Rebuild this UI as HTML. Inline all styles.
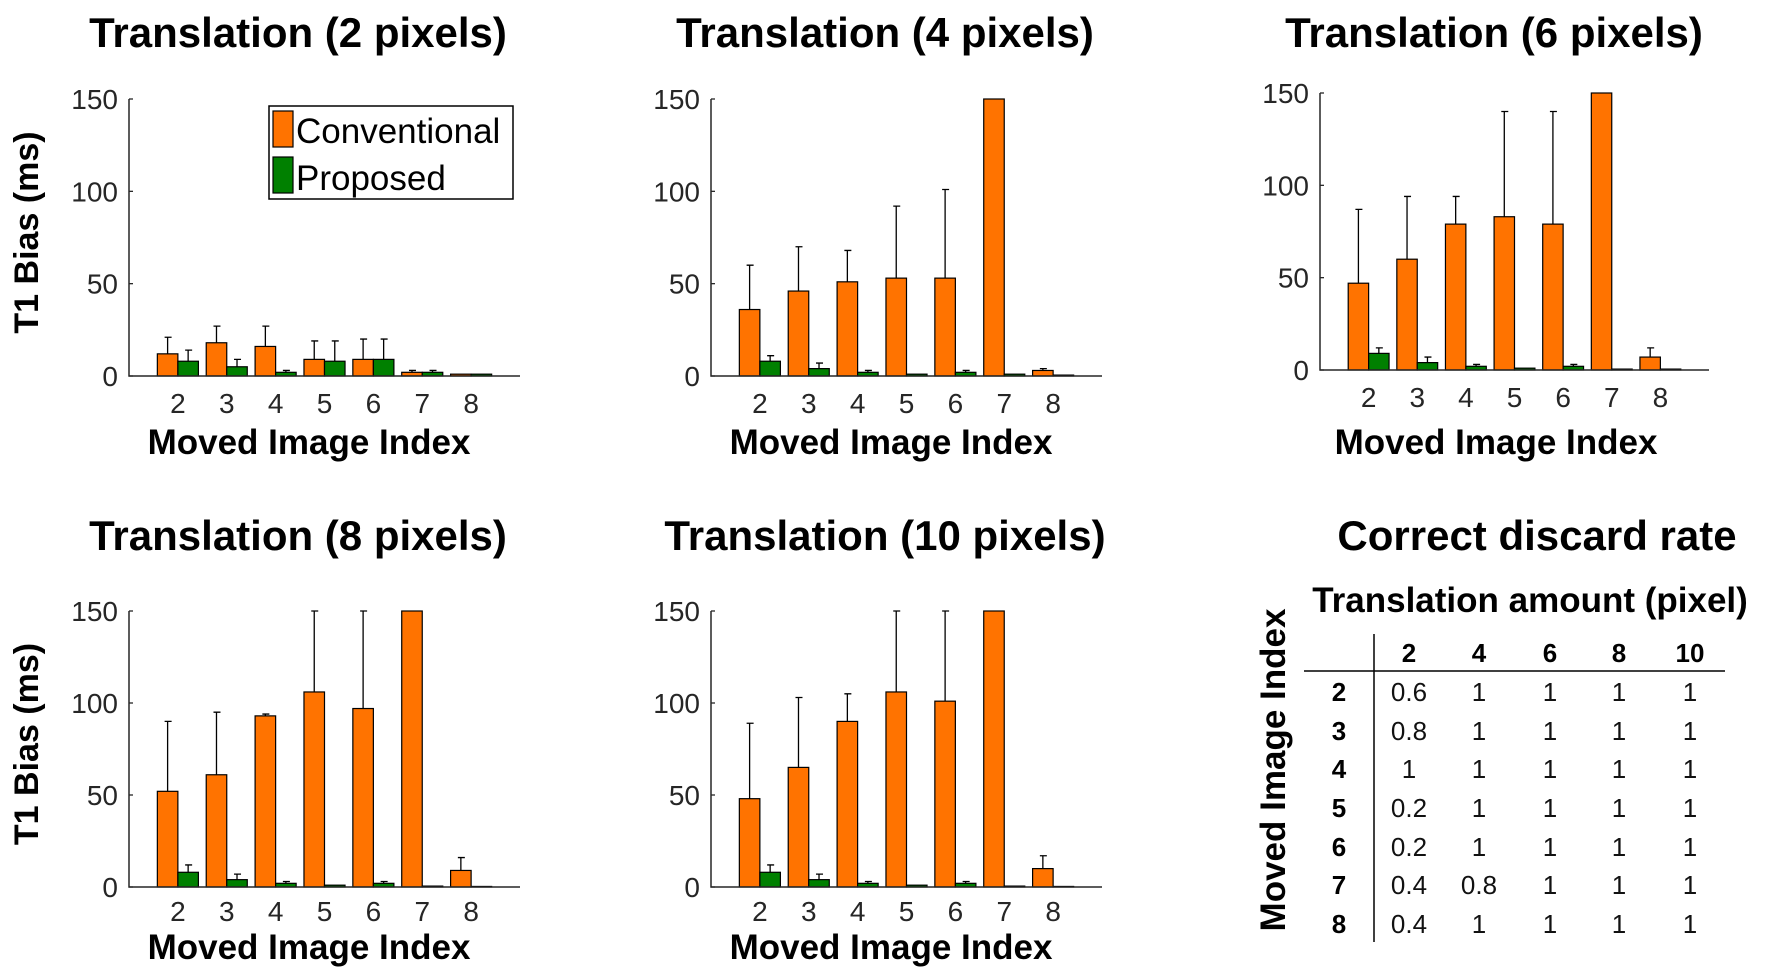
<!DOCTYPE html>
<html><head><meta charset="utf-8"><style>
html,body{margin:0;padding:0;background:#fff;}
svg{display:block;font-family:"Liberation Sans",Arial,sans-serif;}
</style></head><body>
<svg id="fig" width="1775" height="972" viewBox="0 0 1775 972"></svg>
<script>
const categories = [2,3,4,5,6,7,8];
const yTicks = [0,50,100,150];
const titles = ["Translation (2 pixels)","Translation (4 pixels)","Translation (6 pixels)","Translation (8 pixels)","Translation (10 pixels)"];
const conv2 = [12,18,16,9,9,2,1];
const conv2Err = [21,27,27,19,20,3,1];
const prop2 = [8,5,2,8,9,2,1];
const prop2Err = [14,9,3,19,20,3,1];
const conv4 = [36,46,51,53,53,150,3];
const conv4Err = [60,70,68,92,101,150,4];
const prop4 = [8,4,2,1,2,1,0.5];
const prop4Err = [11,7,3,1,3,1,0.5];
const conv6 = [47,60,79,83,79,150,7];
const conv6Err = [87,94,94,140,140,150,12];
const prop6 = [9,4,2,1,2,0.5,0.5];
const prop6Err = [12,7,3,1,3,0.5,0.5];
const conv8 = [52,61,93,106,97,150,9];
const conv8Err = [90,95,94,150,150,150,16];
const prop8 = [8,4,2,1,2,0.5,0.3];
const prop8Err = [12,7,3,1,3,0.5,0.3];
const conv10 = [48,65,90,106,101,150,10];
const conv10Err = [89,103,105,150,150,150,17];
const prop10 = [8,4,2,1,2,0.5,0.3];
const prop10Err = [12,7,3,1,3,0.5,0.3];
const tableCols = ["2","4","6","8","10"];
const tableRows = ["2","3","4","5","6","7","8"];
const tableVals = [
 ["0.6","1","1","1","1"],["0.8","1","1","1","1"],["1","1","1","1","1"],
 ["0.2","1","1","1","1"],["0.2","1","1","1","1"],["0.4","0.8","1","1","1"],["0.4","1","1","1","1"]];

const NS="http://www.w3.org/2000/svg";
const svg=document.getElementById('fig');
function el(tag,attrs,parent,text){const e=document.createElementNS(NS,tag);for(const k in attrs)e.setAttribute(k,attrs[k]);if(text!==undefined)e.textContent=text;(parent||svg).appendChild(e);return e;}

const panels=[
 {x0:129,x1:520,y0:376,y1:99,tx:298,ty:47,conv:conv2,ce:conv2Err,prop:prop2,pe:prop2Err,ylab:true,legend:true,tlo:37,ato:78},
 {x0:711,x1:1102,y0:376,y1:99,tx:885,ty:47,conv:conv4,ce:conv4Err,prop:prop4,pe:prop4Err,tlo:37,ato:78},
 {x0:1320,x1:1709,y0:370,y1:93,tx:1494,ty:47,conv:conv6,ce:conv6Err,prop:prop6,pe:prop6Err,tlo:37,ato:84,axo:176},
 {x0:129,x1:520,y0:887,y1:611,tx:298,ty:550,conv:conv8,ce:conv8Err,prop:prop8,pe:prop8Err,ylab:true,tlo:34,ato:72},
 {x0:711,x1:1102,y0:887,y1:611,tx:885,ty:550,conv:conv10,ce:conv10Err,prop:prop10,pe:prop10Err,tlo:34,ato:72}
];

panels.forEach((p,i)=>{
  const g=el('g',{});
  
  
  const xs=c=>p.x0+(c-1)/8*(p.x1-p.x0);
  const ys=v=>p.y0-Math.min(v,150)/150*(p.y0-p.y1);
  const step=(p.x1-p.x0)/8;
  const t=el('text',{x:p.tx,y:p.ty,'text-anchor':'middle','font-size':42,'font-weight':'bold',fill:'#000'},g,titles[i]);
  
  
  categories.forEach((c,j)=>{
    const cx=xs(c);
    [[p.conv,p.ce,'#ff7300',-0.42],[p.prop,p.pe,'#008000',0]].forEach(([vals,errs,col,off],k)=>{
      const v=vals[j],bx=cx+off*step,bw=0.42*step,by=ys(v);
      const r=el('rect',{x:bx,y:by,width:bw,height:Math.max(p.y0-by,0.5),fill:col,stroke:'#000','stroke-width':1.2},g);
      
      
      const ey=ys(errs[j]),ex=bx+bw/2;
      if(errs[j]>v){
        const e=el('path',{d:`M${ex},${by}V${ey}M${ex-3},${ey}H${ex+4}`,stroke:'#000','stroke-width':1.3,fill:'none'},g);
        
        
      }
    });
    const tl=el('text',{x:cx,y:p.y0+p.tlo,'text-anchor':'middle','font-size':28,fill:'#262626'},g,String(c));
    
    
  });
  yTicks.forEach(v=>{
    const yl=el('text',{x:p.x0-11,y:ys(v)+10,'text-anchor':'end','font-size':28,fill:'#262626'},g,String(v));
    
    
    el('line',{x1:p.x0,x2:p.x0+4,y1:ys(v),y2:ys(v),stroke:'#262626','stroke-width':1.3},g);
  });
  const ax=el('path',{d:`M${p.x0},${p.y1}V${p.y0}H${p.x1}`,stroke:'#262626','stroke-width':1.5,fill:'none'},g);
  
  
  const xt=el('text',{x:p.x0+(p.axo||180),y:p.y0+p.ato,'text-anchor':'middle','font-size':35,'font-weight':'bold',fill:'#000'},g,'Moved Image Index');
  
  
  if(p.ylab){
    const cy=(p.y0+p.y1)/2-3;
    const yt=el('text',{x:40,y:cy,'text-anchor':'middle','font-size':34,'font-weight':'bold',fill:'#000',transform:`rotate(-90 38 ${cy})`},g,'T1 Bias (ms)');
    
    
  }
  if(p.legend){
    const lg=el('g',{},g);
    
    
    el('rect',{x:269,y:106,width:244,height:93,fill:'#fff',stroke:'#000','stroke-width':1.5},lg);
    el('rect',{x:273,y:111,width:20,height:36,fill:'#ff7300',stroke:'#000','stroke-width':1.2},lg);
    el('rect',{x:273,y:157,width:20,height:36,fill:'#008000',stroke:'#000','stroke-width':1.2},lg);
    const l1=el('text',{x:296,y:143,'font-size':35,fill:'#000'},lg,'Conventional');
    
    
    const l2=el('text',{x:296,y:190,'font-size':35,fill:'#000'},lg,'Proposed');
    
    
  }
});

// table
const tg=el('g',{});


const tt=el('text',{x:1537,y:550,'text-anchor':'middle','font-size':42,'font-weight':'bold'},tg,'Correct discard rate');


const th=el('text',{x:1530,y:612,'text-anchor':'middle','font-size':35,'font-weight':'bold'},tg,'Translation amount (pixel)');


const tv=el('text',{x:0,y:0,'text-anchor':'middle','font-size':35,'font-weight':'bold',transform:'translate(1285,770) rotate(-90)'},tg,'Moved Image Index');


el('line',{x1:1374,x2:1374,y1:634,y2:942,stroke:'#000','stroke-width':1.5},tg);
el('line',{x1:1304,x2:1725,y1:671,y2:671,stroke:'#000','stroke-width':1.5},tg);
const colX=[1409,1479,1550,1619,1690];
const rowY=[692,731,769,808,847,885,924];
tableCols.forEach((c,j)=>{
  const h=el('text',{x:colX[j],y:662,'text-anchor':'middle','font-size':26,'font-weight':'bold'},tg,c);
  
  
});
tableRows.forEach((r,i)=>{
  const rl=el('text',{x:1339,y:rowY[i]+9,'text-anchor':'middle','font-size':26,'font-weight':'bold'},tg,r);
  
  
  tableVals[i].forEach((v,j)=>{
    const c=el('text',{x:colX[j],y:rowY[i]+9,'text-anchor':'middle','font-size':26,fill:'#111'},tg,v);
    
    
  });
});
</script>
</body></html>
